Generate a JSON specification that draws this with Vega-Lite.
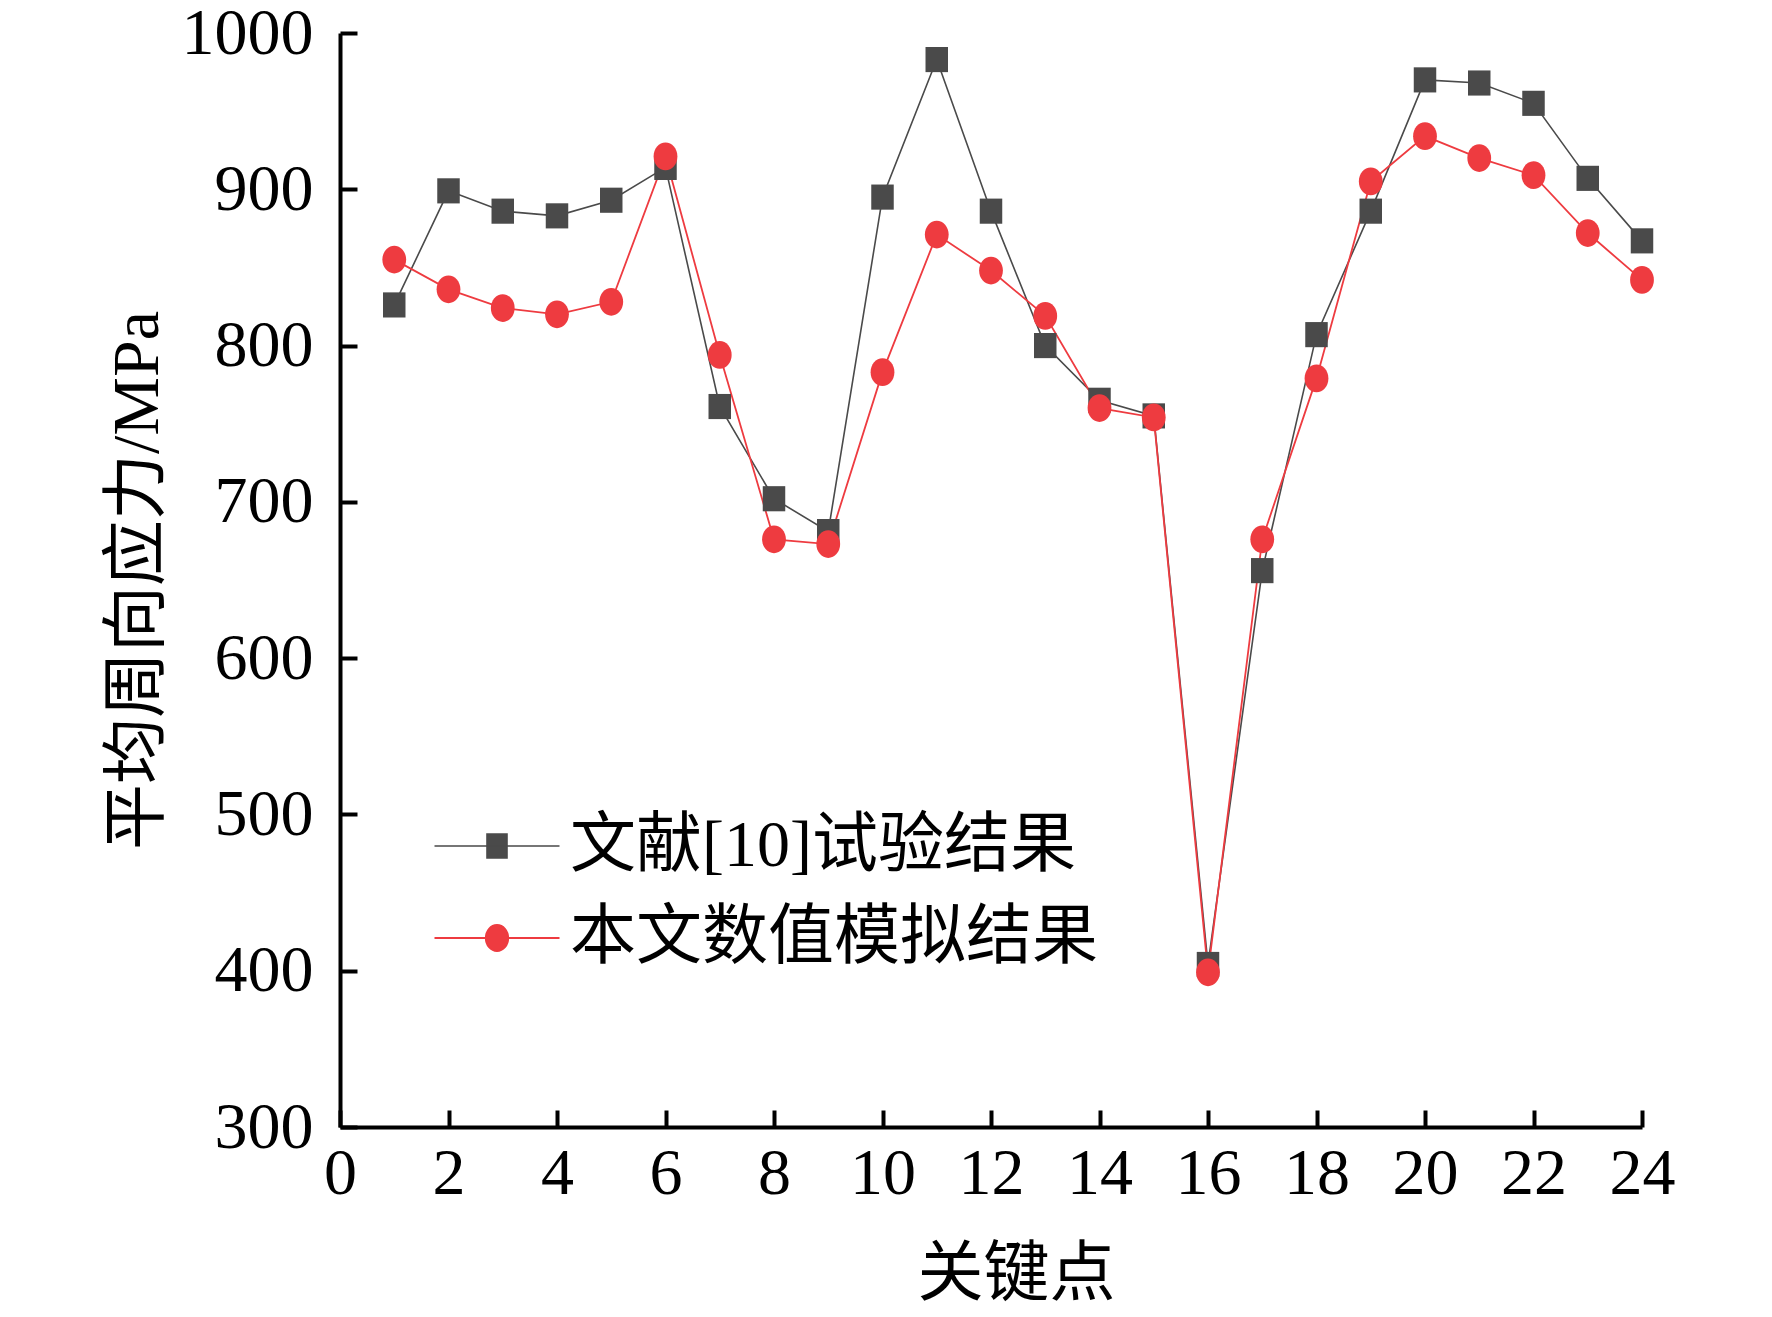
{
  "$schema": "https://vega.github.io/schema/vega-lite/v6.json",
  "autosize": {"type": "none"},
  "padding": {"left": 340, "top": 33, "right": 130, "bottom": 190},
  "width": 1302,
  "height": 1094,
  "background": "white",
  "config": {"view": {"stroke": null}},
  "data": {
    "values": [
      {"point": 1, "stress": 826, "series": "文献[10]试验结果"},
      {"point": 2, "stress": 899, "series": "文献[10]试验结果"},
      {"point": 3, "stress": 886, "series": "文献[10]试验结果"},
      {"point": 4, "stress": 883, "series": "文献[10]试验结果"},
      {"point": 5, "stress": 893, "series": "文献[10]试验结果"},
      {"point": 6, "stress": 914, "series": "文献[10]试验结果"},
      {"point": 7, "stress": 761, "series": "文献[10]试验结果"},
      {"point": 8, "stress": 702, "series": "文献[10]试验结果"},
      {"point": 9, "stress": 681, "series": "文献[10]试验结果"},
      {"point": 10, "stress": 895, "series": "文献[10]试验结果"},
      {"point": 11, "stress": 983, "series": "文献[10]试验结果"},
      {"point": 12, "stress": 886, "series": "文献[10]试验结果"},
      {"point": 13, "stress": 800, "series": "文献[10]试验结果"},
      {"point": 14, "stress": 765, "series": "文献[10]试验结果"},
      {"point": 15, "stress": 755, "series": "文献[10]试验结果"},
      {"point": 16, "stress": 404, "series": "文献[10]试验结果"},
      {"point": 17, "stress": 656, "series": "文献[10]试验结果"},
      {"point": 18, "stress": 807, "series": "文献[10]试验结果"},
      {"point": 19, "stress": 886, "series": "文献[10]试验结果"},
      {"point": 20, "stress": 970, "series": "文献[10]试验结果"},
      {"point": 21, "stress": 968, "series": "文献[10]试验结果"},
      {"point": 22, "stress": 955, "series": "文献[10]试验结果"},
      {"point": 23, "stress": 907, "series": "文献[10]试验结果"},
      {"point": 24, "stress": 867, "series": "文献[10]试验结果"},
      {"point": 1, "stress": 855, "series": "本文数值模拟结果"},
      {"point": 2, "stress": 836, "series": "本文数值模拟结果"},
      {"point": 3, "stress": 824, "series": "本文数值模拟结果"},
      {"point": 4, "stress": 820, "series": "本文数值模拟结果"},
      {"point": 5, "stress": 828, "series": "本文数值模拟结果"},
      {"point": 6, "stress": 921, "series": "本文数值模拟结果"},
      {"point": 7, "stress": 794, "series": "本文数值模拟结果"},
      {"point": 8, "stress": 676, "series": "本文数值模拟结果"},
      {"point": 9, "stress": 673, "series": "本文数值模拟结果"},
      {"point": 10, "stress": 783, "series": "本文数值模拟结果"},
      {"point": 11, "stress": 871, "series": "本文数值模拟结果"},
      {"point": 12, "stress": 848, "series": "本文数值模拟结果"},
      {"point": 13, "stress": 819, "series": "本文数值模拟结果"},
      {"point": 14, "stress": 760, "series": "本文数值模拟结果"},
      {"point": 15, "stress": 754, "series": "本文数值模拟结果"},
      {"point": 16, "stress": 399, "series": "本文数值模拟结果"},
      {"point": 17, "stress": 676, "series": "本文数值模拟结果"},
      {"point": 18, "stress": 779, "series": "本文数值模拟结果"},
      {"point": 19, "stress": 905, "series": "本文数值模拟结果"},
      {"point": 20, "stress": 934, "series": "本文数值模拟结果"},
      {"point": 21, "stress": 920, "series": "本文数值模拟结果"},
      {"point": 22, "stress": 909, "series": "本文数值模拟结果"},
      {"point": 23, "stress": 872, "series": "本文数值模拟结果"},
      {"point": 24, "stress": 842, "series": "本文数值模拟结果"}
    ]
  },
  "encoding": {
    "x": {
      "field": "point",
      "type": "quantitative",
      "scale": {"domain": [0, 24], "nice": false, "zero": false},
      "axis": {
        "values": [0, 2, 4, 6, 8, 10, 12, 14, 16, 18, 20, 22, 24],
        "format": "d",
        "grid": false,
        "domainColor": "black",
        "domainWidth": 4,
        "tickColor": "black",
        "tickWidth": 4,
        "tickSize": -17,
        "labelFont": "Liberation Serif",
        "labelFontSize": 66,
        "labelColor": "black",
        "labelPadding": 31,
        "labelFlush": false,
        "labelOverlap": false,
        "title": "关键点",
        "titleFont": "Noto Sans CJK SC",
        "titleFontSize": 66,
        "titleFontWeight": "normal",
        "titleColor": "black",
        "titleX": 676,
        "titlePadding": 36
      }
    },
    "y": {
      "field": "stress",
      "type": "quantitative",
      "scale": {"domain": [300, 1000], "nice": false, "zero": false},
      "axis": {
        "values": [300, 400, 500, 600, 700, 800, 900, 1000],
        "format": "d",
        "grid": false,
        "domainColor": "black",
        "domainWidth": 4,
        "tickColor": "black",
        "tickWidth": 4,
        "tickSize": -17,
        "labelFont": "Liberation Serif",
        "labelFontSize": 66,
        "labelColor": "black",
        "labelPadding": 44,
        "labelFlush": false,
        "labelOverlap": false,
        "title": "平均周向应力/MPa",
        "titleFont": "Liberation Serif, Noto Sans CJK SC",
        "titleFontSize": 66,
        "titleFontWeight": "normal",
        "titleColor": "black",
        "titlePadding": 10
      }
    },
    "color": {
      "field": "series",
      "type": "nominal",
      "scale": {
        "domain": ["文献[10]试验结果", "本文数值模拟结果"],
        "range": ["#4a4a4a", "#ee3b40"]
      },
      "legend": {
        "title": null,
        "orient": "none",
        "direction": "vertical",
        "legendX": 124,
        "legendY": 780,
        "padding": 0,
        "symbolSize": 625,
        "labelFont": "Liberation Serif, Noto Sans CJK SC",
        "labelFontSize": 66,
        "labelColor": "black",
        "labelOffset": 40,
        "labelLimit": 0,
        "rowPadding": 26,
        "encode": {
          "symbols": {
            "update": {
              "size": {"value": 625},
              "strokeWidth": {"value": 2},
              "shape": {"signal": "datum.value === '文献[10]试验结果' ? 'M-5,0H5M-0.8,-0.95H0.8V0.95H-0.8Z' : 'M-5,0H5M0.9,0A0.9,1.05 0 1,1 -0.9,0A0.9,1.05 0 1,1 0.9,0Z'"},
              "fill": {"signal": "datum.value === '文献[10]试验结果' ? '#4a4a4a' : '#ee3b40'"},
              "stroke": {"signal": "datum.value === '文献[10]试验结果' ? '#4a4a4a' : '#ee3b40'"},
              "opacity": {"value": 1},
              "strokeDash": {"value": []}
            }
          }
        }
      }
    }
  },
  "layer": [
    {
      "mark": {"type": "line"},
      "encoding": {
        "strokeWidth": {
          "field": "series",
          "type": "nominal",
          "scale": {"domain": ["文献[10]试验结果", "本文数值模拟结果"], "range": [1.6, 1.8]},
          "legend": null
        }
      }
    },
    {
      "transform": [{"filter": "datum.series === '文献[10]试验结果'"}],
      "mark": {
        "type": "point",
        "filled": true,
        "opacity": 1,
        "size": 700,
        "shape": "M-0.85,-0.95L0.85,-0.95L0.85,0.95L-0.85,0.95Z"
      }
    },
    {
      "transform": [{"filter": "datum.series === '本文数值模拟结果'"}],
      "mark": {
        "type": "point",
        "filled": true,
        "opacity": 1,
        "size": 700,
        "shape": "M0.9,0A0.9,1.05 0 1,1 -0.9,0A0.9,1.05 0 1,1 0.9,0Z"
      }
    }
  ]
}
